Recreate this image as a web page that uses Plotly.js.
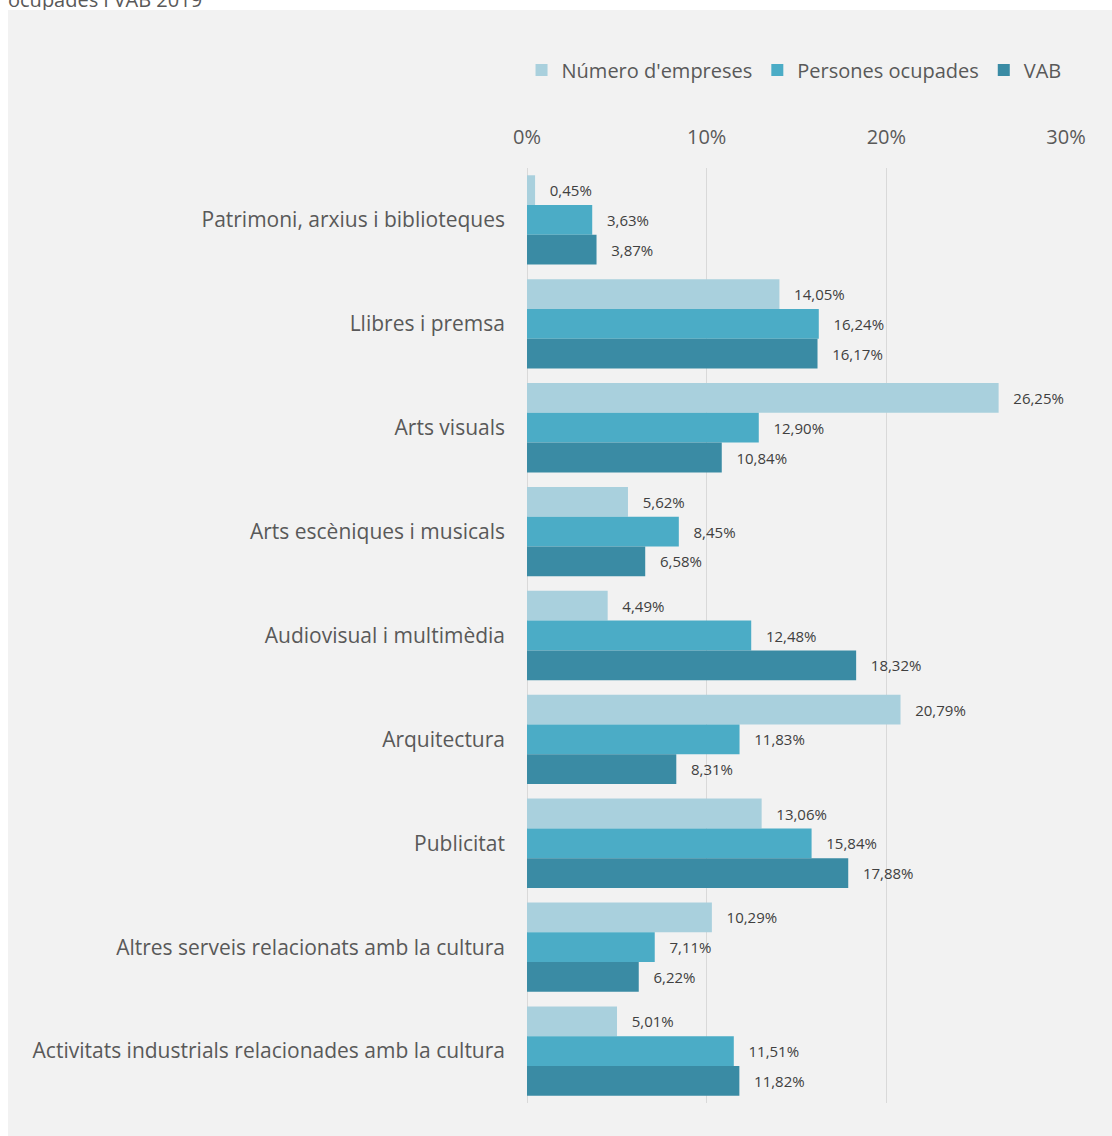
<!DOCTYPE html>
<html>
<head>
<meta charset="utf-8">
<script src="https://cdn.plot.ly/plotly-3.0.1.min.js"></script>
<style>
html,body{margin:0;padding:0;background:#ffffff;width:1112px;height:1136px;overflow:hidden;position:relative;}
#title{position:absolute;left:8px;top:-14px;font-family:"Open Sans",sans-serif;font-size:20px;color:#595959;white-space:nowrap;}
#chart{position:absolute;left:8px;top:10px;width:1104px;height:1126px;}
</style>
</head>
<body>
<div id="title">ocupades i VAB 2019</div>
<div id="chart"></div>
<script>
const categories = ['Patrimoni, arxius i biblioteques','Llibres i premsa','Arts visuals','Arts escèniques i musicals','Audiovisual i multimèdia','Arquitectura','Publicitat','Altres serveis relacionats amb la cultura','Activitats industrials relacionades amb la cultura'];
const empreses = [0.45,14.05,26.25,5.62,4.49,20.79,13.06,10.29,5.01];
const persones = [3.63,16.24,12.90,8.45,12.48,11.83,15.84,7.11,11.51];
const vab = [3.87,16.17,10.84,6.58,18.32,8.31,17.88,6.22,11.82];
const seriesNames = ["Número d'empreses","Persones ocupades","VAB"];
const colors = ['#a9d0dd','#4bacc6','#3a8ba4'];
const font = '"Open Sans", sans-serif';

const data = [empreses, persones, vab].map((vals,i)=>({
  type:'bar', orientation:'h', name:seriesNames[i],
  x:vals, y:categories,
  marker:{color:colors[i]},
  texttemplate:'\u00a0\u00a0\u00a0%{x:.2f}%', textposition:'outside',
  textfont:{family:font,size:15,color:'#404040'},
  cliponaxis:false, hoverinfo:'x'
}));

const layout = {
  width:1104, height:1126,
  paper_bgcolor:'#f2f2f2', plot_bgcolor:'rgba(0,0,0,0)',
  margin:{l:519,r:46,t:158,b:33},
  separators:', ',
  barmode:'group', bargap:0.14, bargroupgap:0,
  font:{family:font,color:'#595959'},
  showlegend:true,
  legend:{orientation:'h', xref:'paper', yref:'paper', x:1.001, xanchor:'right', y:1.1048, yanchor:'middle',
    font:{family:font,size:20,color:'#595959'}, traceorder:'normal', itemwidth:30, bgcolor:'rgba(0,0,0,0)'},
  xaxis:{side:'top', range:[0,30], dtick:10, ticksuffix:'%', showgrid:true, gridcolor:'#d9d9d9', gridwidth:1,
    zeroline:true, zerolinecolor:'#d9d9d9', showline:false, tickfont:{family:font,size:20,color:'#595959'},
    ticklabelstandoff:19, fixedrange:true},
  yaxis:{type:'category', autorange:'reversed', showgrid:false, zeroline:false, showline:false,
    tickfont:{family:font,size:21,color:'#595959'}, ticklabelstandoff:21, fixedrange:true}
};
Plotly.newPlot('chart', data, layout, {displayModeBar:false, staticPlot:true});
</script>
</body>
</html>
